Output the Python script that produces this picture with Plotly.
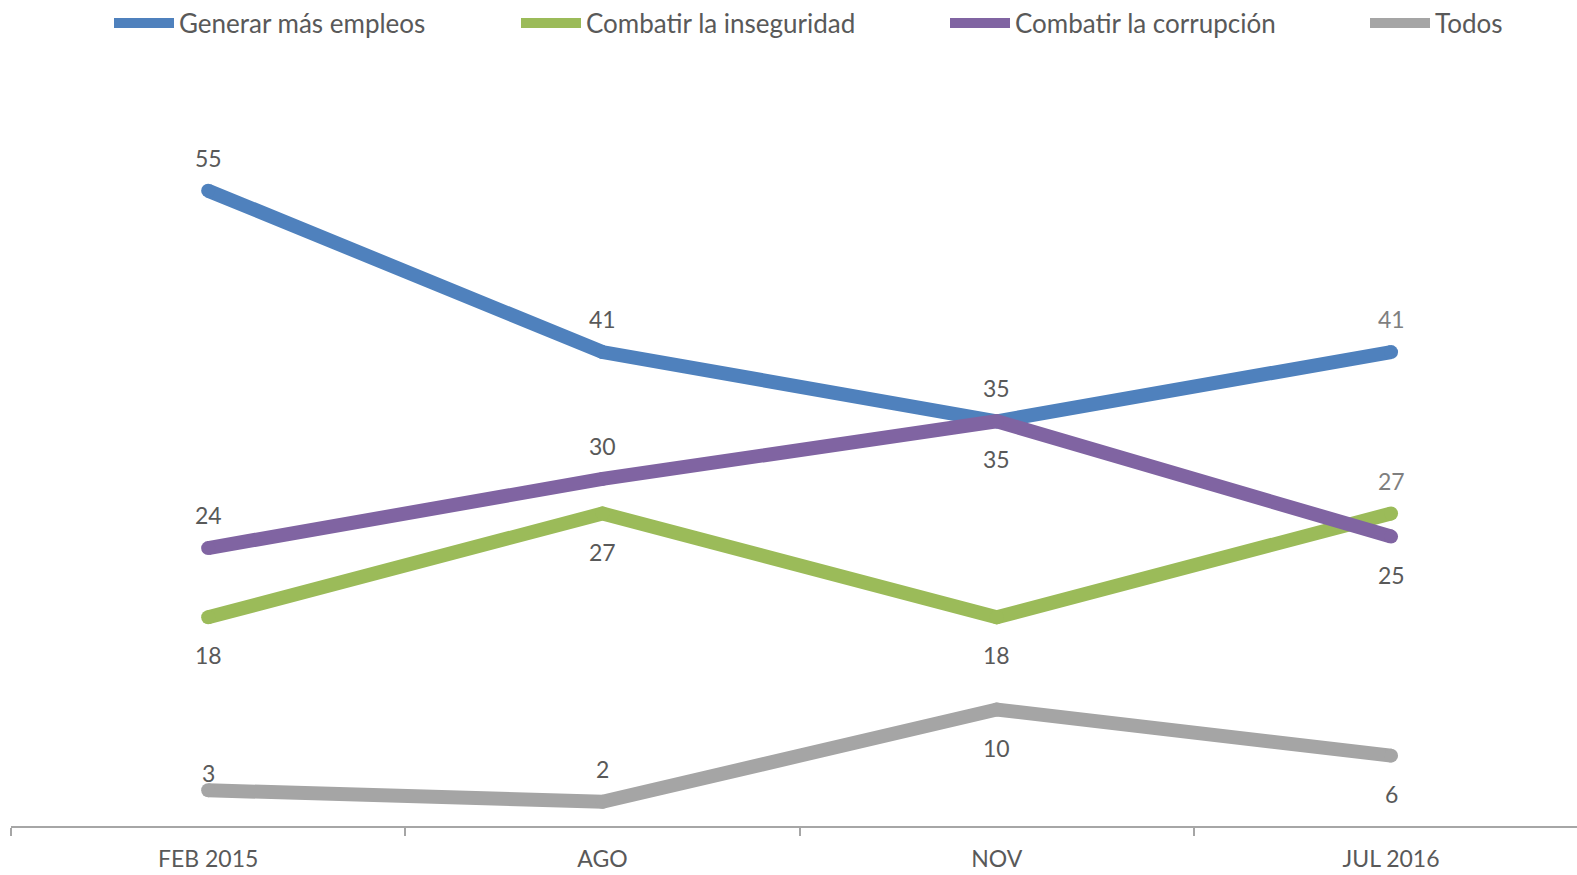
import plotly.graph_objects as go

categories = ["FEB 2015", "AGO", "NOV", "JUL 2016"]
empleos = [55, 41, 35, 41]
inseguridad = [18, 27, 18, 27]
corrupcion = [24, 30, 35, 25]
todos = [3, 2, 10, 6]

series_names = ["Generar más empleos", "Combatir la inseguridad", "Combatir la corrupción", "Todos"]
series_values = [empleos, inseguridad, corrupcion, todos]

# styling
colors = ["#4F81BD", "#9BBB59", "#8064A2", "#A5A5A5"]
label_pos = [
    ["above", "above", "above", "above"],
    ["below", "below", "below", "above"],
    ["above", "above", "below", "below"],
    ["above_near", "above", "below", "below"],
]
label_colors = [
    ["#595959", "#595959", "#595959", "#7F7F7F"],
    ["#595959", "#595959", "#595959", "#7F7F7F"],
    ["#595959", "#595959", "#595959", "#595959"],
    ["#595959", "#595959", "#595959", "#595959"],
]
shift = {"above": 33, "below": -38, "above_near": 17}
FONT = "Lato"
LW = 14

W, H = 1577, 875
L, R, T, B = 11, 0, 133, 49
PH = H - T - B
CAT_STEP = 394.3

fig = go.Figure()
legend_ids = ["legend", "legend2", "legend3", "legend4"]
for i, (name, vals) in enumerate(zip(series_names, series_values)):
    fig.add_trace(go.Scatter(
        x=categories, y=vals, mode="lines+markers", name=name,
        line=dict(color=colors[i], width=LW),
        marker=dict(color=colors[i], size=LW, line=dict(width=0)),
        showlegend=False, hoverinfo="x+y+name",
    ))
for i, name in enumerate(series_names):
    fig.add_trace(go.Scatter(
        x=[None], y=[None], mode="lines", name=name,
        line=dict(color=colors[i], width=LW),
        showlegend=True, legend=legend_ids[i],
    ))

annotations = []
for i, vals in enumerate(series_values):
    for j, v in enumerate(vals):
        annotations.append(dict(
            x=categories[j], y=v, xref="x", yref="y", text=str(v), showarrow=False,
            yshift=shift[label_pos[i][j]], font=dict(family=FONT, size=23, color=label_colors[i][j]),
        ))

legend_px = [114, 521, 950, 1370]
legend_center_y = 23
legend_layouts = {}
for k, lid in enumerate(legend_ids):
    legend_layouts[lid] = dict(
        x=(legend_px[k] - 5) / W, xref="container", xanchor="left",
        y=1 + (T - legend_center_y) / PH, yref="paper", yanchor="middle",
        orientation="h", font=dict(family=FONT, size=26, color="#595959"),
        bgcolor="rgba(0,0,0,0)", borderwidth=0, itemwidth=60,
    )

pw = W - L - R
span = pw / CAT_STEP
fig.update_layout(
    width=W, height=H,
    margin=dict(l=L, r=R, t=T, b=B, autoexpand=False),
    plot_bgcolor="white", paper_bgcolor="white",
    annotations=annotations,
    xaxis=dict(
        type="category", range=[-0.5, -0.5 + span], showgrid=False, zeroline=False,
        showline=True, linecolor="#A6A6A6", linewidth=1.5,
        ticks="outside", tickson="boundaries", ticklen=8, tickcolor="#A6A6A6", tickwidth=1.5,
        tickfont=dict(family=FONT, size=23, color="#595959"), ticklabelstandoff=12,
    ),
    yaxis=dict(range=[-0.1, 60], visible=False, showgrid=False, zeroline=False),
    **legend_layouts,
)

fig.write_html(
    "out.html",
    config={"displayModeBar": False},
    post_script="document.body.style.margin='0';document.body.style.overflow='hidden';",
)
